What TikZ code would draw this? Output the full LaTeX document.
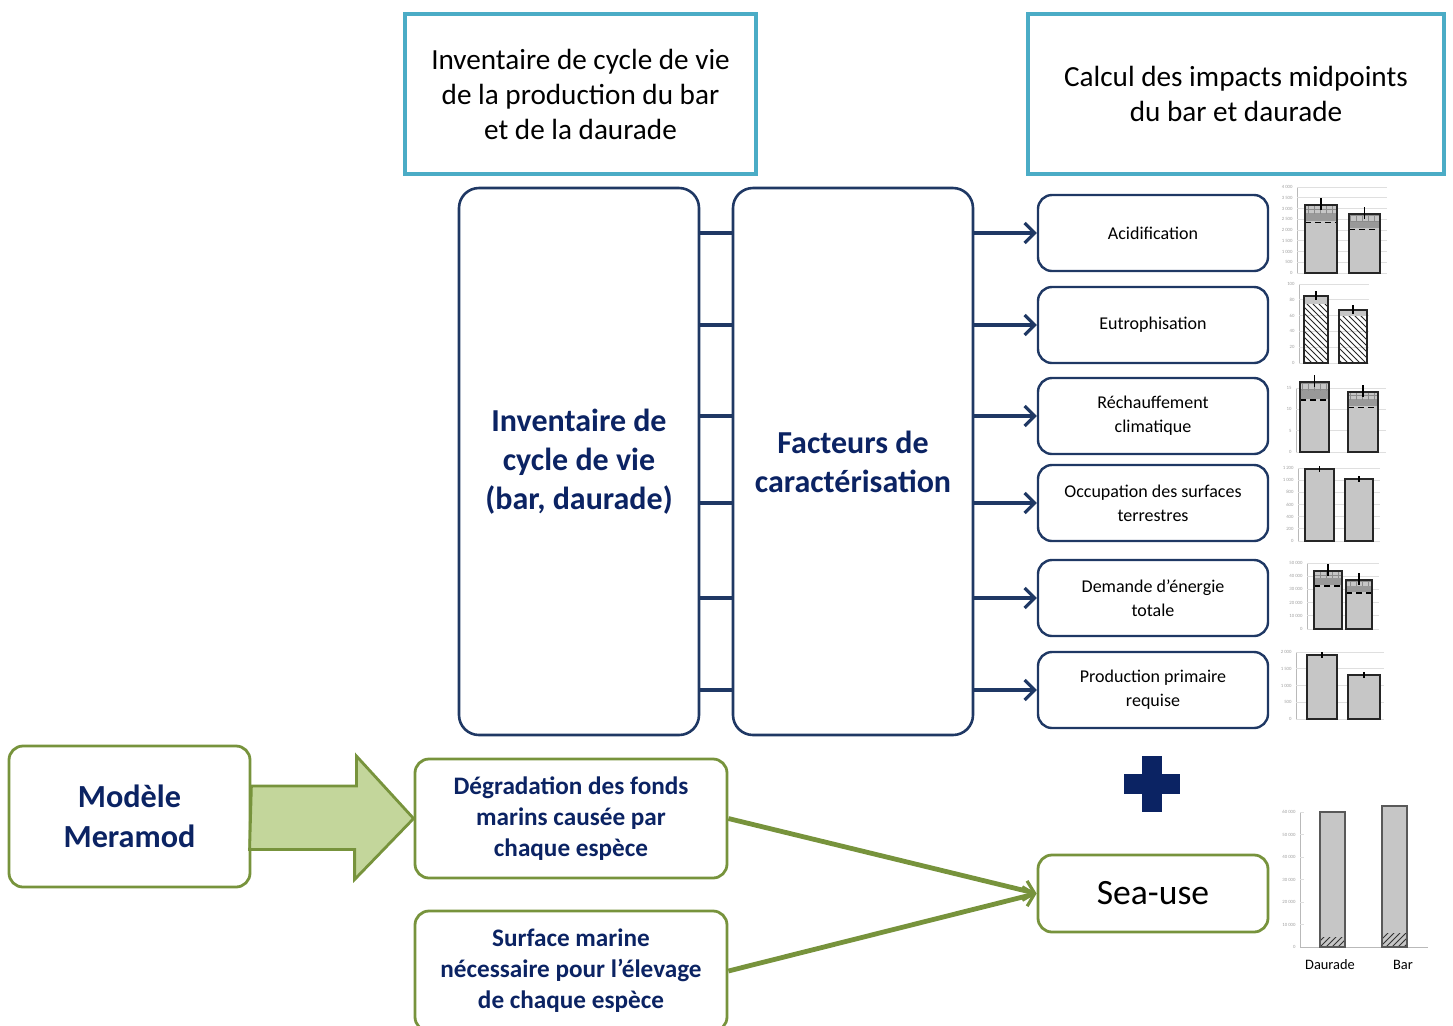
\documentclass[tikz,border=0pt]{standalone}
\usepackage{fontspec}
\setmainfont{Carlito}
\usetikzlibrary{arrows.meta,patterns}

\definecolor{navy}{HTML}{1F3864}
\definecolor{navytext}{HTML}{0B2363}
\definecolor{skyline}{HTML}{4BACC6}
\definecolor{leaf}{HTML}{77933C}
\definecolor{leaffill}{HTML}{C3D69B}

\tikzset{
  titlebox/.style={draw=skyline, line width=2pt, align=center,
    minimum height=80pt, font=\fontsize{14.6}{17.5}\selectfont},
  bigbox/.style={draw=navy, line width=1.3pt, rounded corners=10pt,
    minimum width=120pt, minimum height=273.5pt, align=center,
    text=navytext, font=\bfseries\fontsize{16}{19.5}\selectfont},
  impact/.style={draw=navy, line width=1.2pt, rounded corners=7pt,
    minimum width=115pt, minimum height=38pt, align=center,
    font=\fontsize{9}{12}\selectfont},
  greenbox/.style={draw=leaf, line width=1.4pt, rounded corners=7pt,
    align=center, text=navytext},
  link/.style={navy, line width=2.2pt},
  flow/.style={navy, line width=2.2pt,
    -{Straight Barb[length=5pt, width=10pt, line width=1.6pt]}},
  greenflow/.style={leaf, line width=2.4pt,
    -{Straight Barb[length=5pt, width=10pt, line width=1.6pt]}},
  bigarrow/.style={draw=leaf, fill=leaffill, line width=1.4pt, line join=miter},
  gridline/.style={gray!25, line width=0.4pt},
  axisline/.style={gray!55, line width=0.5pt},
  ticklabel/.style={anchor=east, inner sep=0pt, xshift=-2pt, text=gray!75,
    font=\fontsize{2.4}{2.6}\selectfont},
  barline/.style={black!85, line width=0.9pt},
  errbar/.style={black, line width=0.9pt},
}

% axis: x, y of zero, y of top, steps, grid length, labels
\newcommand{\chartaxis}[6]{%
  \draw[axisline] (#1,#2) -- (#1,#3);
  \foreach \lab [count=\i from 0] in {#6} {
    \draw[gridline] (#1,{#2+(#3-#2)*\i/#4}) -- +(#5,0);
    \node[ticklabel] at (#1,{#2+(#3-#2)*\i/#4}) {\lab};
  }}
% bars: x1, x2, y of zero, y of top
\newcommand{\plainbar}[4]{%
  \draw[barline, fill=gray!45] (#1,#3) rectangle (#2,#4);
  \draw[errbar] ({(#1+#2)/2},{#4-3}) -- ({(#1+#2)/2},{#4+3});}
\newcommand{\stackbar}[4]{%
  \fill[gray!45] (#1,#3) rectangle (#2,#4);
  \fill[gray!80] (#1,{#4+0.12*(#3-#4)}) rectangle (#2,{#4+0.24*(#3-#4)});
  \fill[pattern=grid, pattern color=gray!90] (#1,#4) rectangle (#2,{#4+0.12*(#3-#4)});
  \draw[black, densely dashed, line width=0.8pt] (#1,{#4+0.26*(#3-#4)}) -- (#2,{#4+0.26*(#3-#4)});
  \draw[barline] (#1,#3) rectangle (#2,#4);
  \draw[errbar] ({(#1+#2)/2},{#4-7}) -- ({(#1+#2)/2},{#4+5});}
\newcommand{\hatchbar}[4]{%
  \fill[gray!45] (#1,#4) rectangle (#2,{#4+0.12*(#3-#4)});
  \fill[pattern=north west lines, pattern color=black!85] (#1,#3) rectangle (#2,{#4+0.12*(#3-#4)});
  \draw[barline] (#1,#3) rectangle (#2,#4);
  \draw[errbar] ({(#1+#2)/2},{#4-5}) -- ({(#1+#2)/2},{#4+4});}
% sea-use bar: x1, x2, y of zero, y of top, y of hatch top
\newcommand{\seabar}[5]{%
  \fill[gray!45] (#1,#3) rectangle (#2,#4);
  \fill[pattern=north east lines, pattern color=black!80] (#1,#3) rectangle (#2,#5);
  \draw[barline, black!65] (#1,#3) rectangle (#2,#4);}

\begin{document}
\begin{tikzpicture}[x=0.5pt, y=-0.5pt]
  \useasboundingbox (0,0) rectangle (1453,1025);

  % headers
  \node[titlebox, minimum width=175.5pt] (lcihead) at (580.5,94)
    {Inventaire de cycle de vie\\de la production du bar\\et de la daurade};
  \node[titlebox, minimum width=208pt] (calchead) at (1236,94)
    {Calcul des impacts midpoints\\du bar et daurade};

  % inventory and factors
  \node[bigbox] (inv) at (579,461.5) {Inventaire de\\cycle de vie\\(bar, daurade)};
  \node[bigbox] (fact) at (853,461.5) {Facteurs de\\caractérisation};

  % impact categories
  \node[impact] (acid) at (1153,233) {Acidification};
  \node[impact] (eutro) at (1153,325) {Eutrophisation};
  \node[impact] (warm) at (1153,416) {Réchauffement\\climatique};
  \node[impact] (land) at (1153,503) {Occupation des surfaces\\terrestres};
  \node[impact] (energy) at (1153,598) {Demande d’énergie\\totale};
  \node[impact] (npp) at (1153,690) {Production primaire\\requise};

  \foreach \cat in {acid,eutro,warm,land,energy,npp} {
    \draw[link] (inv.east |- \cat) -- (fact.west |- \cat);
    \draw[flow] (fact.east |- \cat) -- (\cat.west);
  }

  % sea-use part
  \node[greenbox, minimum width=120.5pt, minimum height=70.5pt,
    font=\bfseries\fontsize{16.1}{20}\selectfont] (meramod) at (129.5,816.5) {Modèle\\Meramod};
  \node[greenbox, minimum width=156pt, minimum height=59.5pt,
    font=\bfseries\fontsize{12.6}{15.5}\selectfont] (degr) at (571,818.5)
    {Dégradation des fonds\\marins causée par\\chaque espèce};
  \node[greenbox, minimum width=156pt, minimum height=60pt,
    font=\bfseries\fontsize{12.6}{15.5}\selectfont] (surf) at (571,971)
    {Surface marine\\nécessaire pour l’élevage\\de chaque espèce};
  \node[greenbox, minimum width=115pt, minimum height=38.5pt, text=black,
    font=\fontsize{17.8}{20}\selectfont] (seause) at (1153,893.5) {Sea-use};

  \draw[bigarrow] (meramod.east) ++(0,-30.5) -- ++(105,0) -- ++(0,-30)
    -- (degr.west) -- ++(-59,61) -- ++(0,-30) -- ++(-105,0) -- cycle;
  \draw[greenflow] (degr.east) -- (seause.west);
  \draw[greenflow] (surf.east) -- (seause.west);

  % plus sign
  \fill[navytext] (1142,756) rectangle (1162,812);
  \fill[navytext] (1124,774) rectangle (1180,794);

  % small charts
  \chartaxis{1297}{273}{187}{8}{90}{0,500,1 000,1 500,2 000,2 500,3 000,3 500,4 000}
  \stackbar{1305}{1337}{273}{205}
  \stackbar{1349}{1380}{273}{214}

  \chartaxis{1299}{363}{284}{5}{70}{0,20,40,60,80,100}
  \hatchbar{1304}{1328}{363}{296}
  \hatchbar{1339}{1367}{363}{310}

  \chartaxis{1296}{452}{388}{3}{90}{0,5,10,15}
  \stackbar{1300}{1329}{452}{382}
  \stackbar{1348}{1378}{452}{392}

  \chartaxis{1298}{541}{468}{6}{82}{0,200,400,600,800,1 000,1 200}
  \plainbar{1305}{1334}{541}{469}
  \plainbar{1345}{1373}{541}{479}

  \chartaxis{1307}{629}{563}{5}{72}{0,10 000,20 000,30 000,40 000,50 000}
  \stackbar{1314}{1342}{629}{571}
  \stackbar{1346}{1372}{629}{580}

  \chartaxis{1296}{719}{652}{4}{88}{0,500,1 000,1 500,2 000}
  \plainbar{1307}{1337}{719}{655}
  \plainbar{1348}{1380}{719}{675}

  % sea-use chart
  \chartaxis{1300}{947}{812}{6}{4}{0,10 000,20 000,30 000,40 000,50 000,60 000}
  \draw[axisline] (1300,947) -- (1428,947);
  \seabar{1320}{1345}{947}{812}{937}
  \seabar{1382}{1407}{947}{806}{933}
  \node[font=\fontsize{7.2}{8}\selectfont] (daurlab) at (1330,965) {Daurade};
  \node[font=\fontsize{7.2}{8}\selectfont] (barlab) at (1403,965) {Bar};
\end{tikzpicture}
\end{document}
